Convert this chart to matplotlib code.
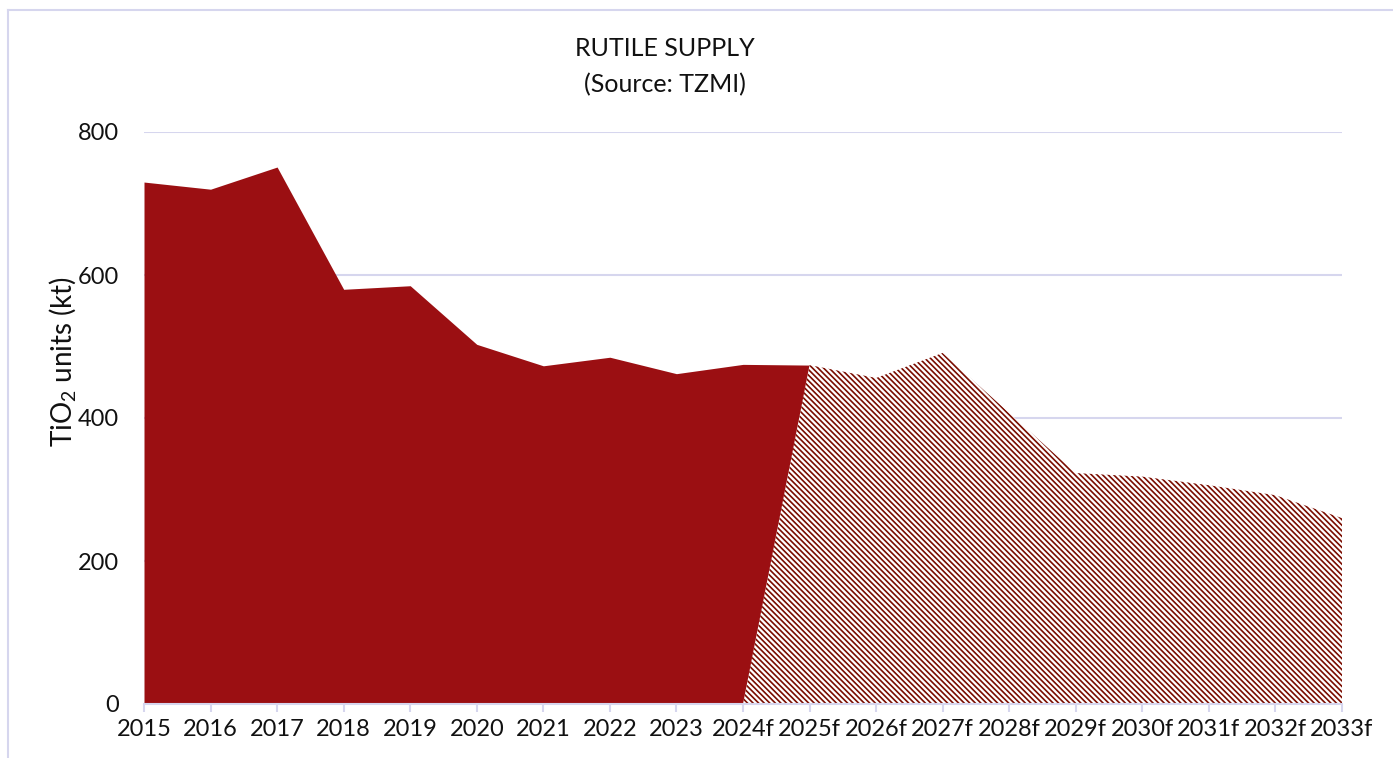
import matplotlib.pyplot as plt
from matplotlib.lines import Line2D

plt.rcParams['font.family'] = ['Lato', 'DejaVu Sans']
plt.rcParams['mathtext.fontset'] = 'custom'
plt.rcParams['mathtext.rm'] = 'Lato'
plt.rcParams['mathtext.it'] = 'Lato'
plt.rcParams['hatch.linewidth'] = 1.2

years = ['2015', '2016', '2017', '2018', '2019', '2020', '2021', '2022', '2023',
         '2024f', '2025f', '2026f', '2027f', '2028f', '2029f', '2030f', '2031f',
         '2032f', '2033f']
# actual supply (solid area), 2015 .. 2025f
actual = [730, 720, 751, 580, 585, 503, 473, 485, 462, 475, 474]
# forecast supply (hatched area), 2024f .. 2033f
forecast = [0, 474, 456, 491, 407, 323, 318, 306, 292, 260]

solid_red = '#9b0f12'
hatch_red = '#7a0c00'
grid_col = '#d6d6ee'

fig = plt.figure(figsize=(13.93, 7.58), dpi=100)
ax = fig.add_axes([144 / 1393, 1 - 704 / 758, (1342 - 144) / 1393, (704 - 132) / 758])

x_act = list(range(len(actual)))
x_fc = list(range(9, 9 + len(forecast)))

ax.fill_between(x_act, 0, actual, color=solid_red, linewidth=0, zorder=2)
ax.fill_between(x_fc, 0, forecast, facecolor='white', edgecolor=hatch_red,
                hatch='\\\\\\\\\\\\', linewidth=0, zorder=3)

ax.set_xlim(0, len(years) - 1)
ax.set_ylim(0, 800)
ax.set_yticks([0, 200, 400, 600, 800])
ax.set_xticks(range(len(years)))
ax.set_xticklabels(years)
ax.grid(axis='y', color=grid_col, linewidth=1.5, zorder=0)
ax.set_axisbelow(True)

for s in ['top', 'right', 'left']:
    ax.spines[s].set_visible(False)
ax.spines['bottom'].set_color(grid_col)
ax.spines['bottom'].set_linewidth(1.5)
ax.spines['bottom'].set_zorder(4)

ax.tick_params(axis='x', direction='out', length=6, width=1.5, color=grid_col,
               labelsize=17, pad=5, labelcolor='#111111')
ax.tick_params(axis='y', length=0, labelsize=17, pad=18, labelcolor='#111111')

fig.text(665 / 1393, 1 - 48 / 758, 'RUTILE SUPPLY', ha='center', va='center',
         fontsize=18, color='#111111')
fig.text(665 / 1393, 1 - 85 / 758, '(Source: TZMI)', ha='center', va='center',
         fontsize=18, color='#111111')
fig.text(62 / 1393, 1 - 362 / 758, r'TiO$_2$ units (kt)', rotation=90,
         ha='center', va='center', fontsize=20, color='#111111')

# chart frame
fig.add_artist(Line2D([8 / 1393, 8 / 1393], [0, 1 - 10 / 758], transform=fig.transFigure,
                      color=grid_col, linewidth=1.5))
fig.add_artist(Line2D([8 / 1393, 1], [1 - 10 / 758, 1 - 10 / 758], transform=fig.transFigure,
                      color=grid_col, linewidth=1.5))

fig.savefig('out.png', dpi=100)
